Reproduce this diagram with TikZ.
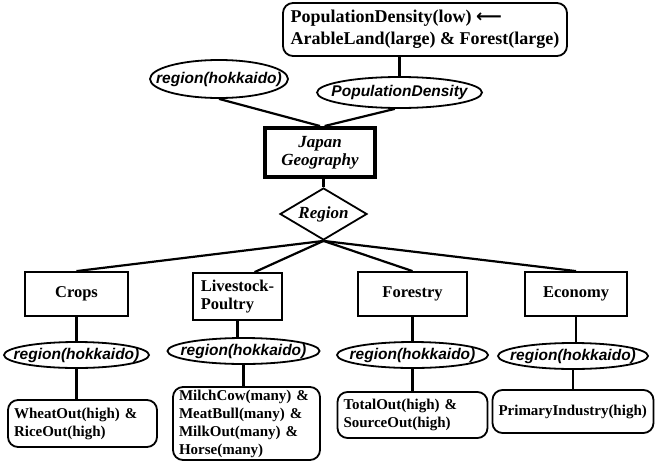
\documentclass[tikz,border=0pt]{standalone}
\usepackage{fontspec}
\setmainfont{Liberation Serif}
\setsansfont{Liberation Sans}
\newfontfamily\arrowfont{DejaVu Sans}
\usepackage{amsmath}
\usepackage{tikz}
\usetikzlibrary{arrows,shapes.geometric}

\tikzset{
	cls/.style={draw, rectangle, line width=1.8pt, align=left, font=\bfseries\fontsize{16.5}{18}\selectfont},
	att/.style={draw, ellipse, line width=1.8pt, inner xsep=-16pt, inner ysep=0pt, font=\sffamily\bfseries\itshape\fontsize{15.5}{18}\selectfont},
	res/.style={draw, rectangle, rounded corners=10pt, line width=1.8pt, align=left, inner xsep=6pt, inner ysep=2pt, font=\bfseries\fontsize{15}{18}\selectfont}
}

\begin{document}
\begin{tikzpicture}[line width=2.2pt]
	\useasboundingbox (0,0) rectangle (655pt,-466pt);
	
	\node[draw, rectangle, line width=4pt, minimum width=110pt, minimum height=49pt, align=center, font=\bfseries\itshape\fontsize{17}{18}\selectfont](JG) at (320pt,-152.5pt){Japan\\Geography};
	\node[draw, diamond, aspect=1.7, line width=1.8pt, inner sep=1pt, minimum width=87pt, minimum height=52pt, font=\bfseries\itshape\fontsize{17}{18}\selectfont, below of=JG, node distance=61.5pt, xshift=3.5pt](REG){Region};
	
	\node[att, above of=JG, node distance=73.5pt, xshift=-101pt, minimum width=138pt, minimum height=38pt](ATT1){region(hokkaido)};
	\node[att, above of=JG, node distance=60pt, xshift=79.5pt, minimum width=165pt, minimum height=31pt](ATT2){PopulationDensity};
	\node[res, above of=ATT2, node distance=63pt, xshift=25.5pt, minimum width=284pt, minimum height=53pt, inner xsep=6pt, font=\bfseries\fontsize{18}{22}\selectfont](TOP){PopulationDensity(low) {\arrowfont\bfseries ⟵}\\ArableLand(large) \& Forest(large)};
	
	\draw (ATT1.south) -- (JG.north);
	\draw (ATT2.254) -- (JG.80);
	\draw (ATT2.north) -- (ATT2.north |- TOP.south);
	\draw (REG.north) -- (REG.north |- JG.south);
	
	\node[cls, below of=REG, node distance=80pt, xshift=-247pt, minimum width=103pt, minimum height=44pt](CAT1){Crops};
	\node[cls, right of=CAT1, node distance=161pt, yshift=-2.5pt, minimum width=89pt, minimum height=47pt](CAT2){Livestock-\\Poultry};
	\node[cls, right of=CAT1, node distance=336pt, minimum width=109pt, minimum height=44pt](CAT3){Forestry};
	\node[cls, right of=CAT3, node distance=163.5pt, minimum width=102pt, minimum height=44pt](CAT4){Economy};
	
	\draw (REG.south) -- (CAT1.north);
	\draw (REG.south) -- (CAT2.55);
	\draw (REG.south) -- (CAT3.north);
	\draw (REG.south) -- (CAT4.north);
	
	\node[att, below of=CAT1, node distance=61pt, minimum width=145pt, minimum height=26pt](VAL1){region(hokkaido)};
	\node[att, below of=CAT2, node distance=54.5pt, xshift=6pt, minimum width=152pt, minimum height=26pt](VAL2){region(hokkaido)};
	\node[att, below of=CAT3, node distance=61pt, minimum width=151pt, minimum height=26pt](VAL3){region(hokkaido)};
	\node[att, below of=CAT4, node distance=62pt, xshift=-3pt, minimum width=150pt, minimum height=26pt](VAL4){region(hokkaido)};
	
	\draw (CAT1.south) -- (CAT1.south |- VAL1.north);
	\draw (CAT2.south) -- (CAT2.south |- VAL2.north);
	\draw (CAT3.south) -- (CAT3.south |- VAL3.north);
	\draw (CAT4.south) -- (CAT4.south |- VAL4.north);
	
	\node[res, below of=VAL1, node distance=68.5pt, xshift=6pt, text width=137pt, minimum height=47pt](RES1){WheatOut(high) \&\\RiceOut(high)};
	\node[res, below of=VAL2, node distance=72.5pt, xshift=3pt, text width=135pt, minimum height=73pt](RES2){MilchCow(many) \&\\MeatBull(many) \&\\MilkOut(many) \&\\Horse(many)};
	\node[res, below of=VAL3, node distance=60pt, text width=138pt, minimum height=46pt](RES3){TotalOut(high) \&\\SourceOut(high)};
	\node[res, below of=VAL4, node distance=55.5pt, text width=149pt, minimum height=43pt](RES4){PrimaryIndustry(high)};
	
	\draw (VAL1.south) -- (VAL1.south |- RES1.north);
	\draw (VAL2.south) -- (VAL2.south |- RES2.north);
	\draw (VAL3.south) -- (VAL3.south |- RES3.north);
	\draw (VAL4.south) -- (VAL4.south |- RES4.north);
\end{tikzpicture}
\end{document}
